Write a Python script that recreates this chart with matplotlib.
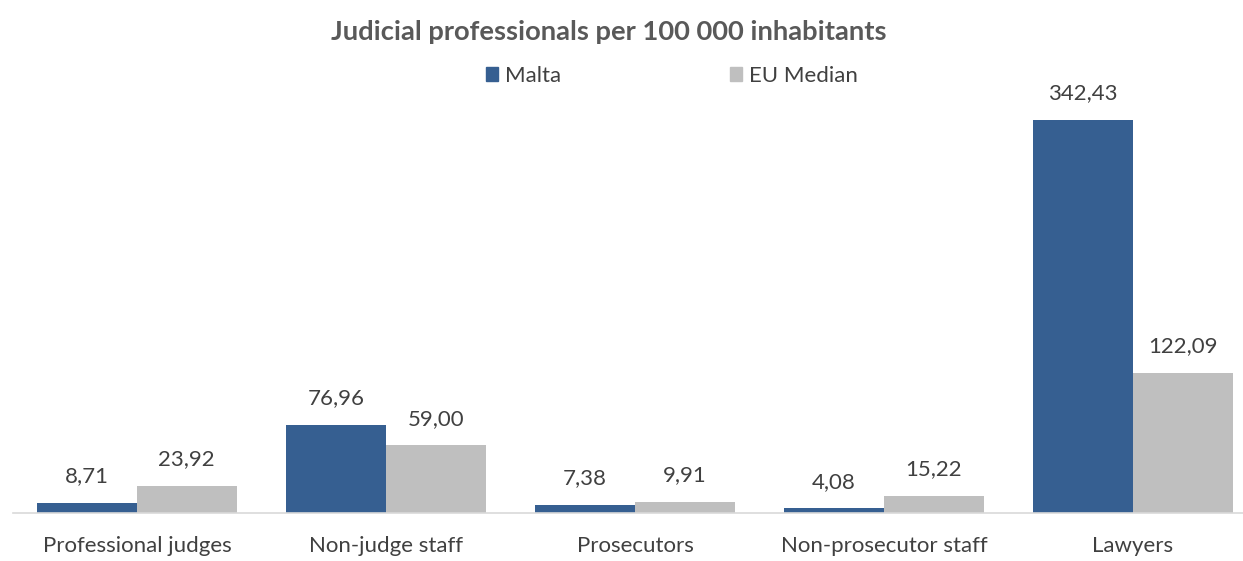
import matplotlib
matplotlib.use("Agg")
import matplotlib.pyplot as plt
import numpy as np
from matplotlib.patches import Patch

categories = ["Professional judges", "Non-judge staff", "Prosecutors", "Non-prosecutor staff", "Lawyers"]
malta = [8.71, 76.96, 7.38, 4.08, 342.43]
eu_median = [23.92, 59.00, 9.91, 15.22, 122.09]
series_names = ["Malta", "EU Median"]

plt.rcParams['font.family'] = ['Lato', 'DejaVu Sans']
W, H = 1243, 561
fig = plt.figure(figsize=(W / 100, H / 100), dpi=100)
left, right = 12.5 / W, 1257.5 / W
bottom, top = (H - 513) / H, (H - 99.8) / H
ax = fig.add_axes([left, bottom, right - left, top - bottom])

x = np.arange(len(categories))
w = 0.4
c_malta = "#365F91"
c_eu = "#BFBFBF"
b1 = ax.bar(x - w / 2, malta, w, color=c_malta, label=series_names[0])
b2 = ax.bar(x + w / 2, eu_median, w, color=c_eu, label=series_names[1])

def fmt(v):
    return f"{v:.2f}".replace(".", ",")

for bars, vals in ((b1, malta), (b2, eu_median)):
    for r, v in zip(bars, vals):
        ax.annotate(fmt(v), (r.get_x() + r.get_width() / 2, v), xytext=(0, 12),
                    textcoords="offset points", ha="center", va="bottom",
                    fontsize=16, color="#404040")

ax.set_xlim(-0.5, len(categories) - 0.5)
ax.set_ylim(0, 360)
ax.set_xticks(x)
ax.set_xticklabels(categories, fontsize=16, color="#404040")
ax.tick_params(axis="x", length=0, pad=16.5)
ax.set_yticks([])
for s in ["top", "right", "left"]:
    ax.spines[s].set_visible(False)
ax.spines["bottom"].set_color("#D9D9D9")
ax.spines["bottom"].set_linewidth(1.2)

fig.text(609 / W, 1 - 32 / H, "Judicial professionals per 100 000 inhabitants", ha="center", va="center",
         fontsize=19.7, fontweight="bold", color="#595959")

handles = [Patch(color=c_malta), Patch(color=c_eu)]
leg = fig.legend(handles, series_names, loc="center", bbox_to_anchor=(672 / W, 1 - 76 / H), ncol=2,
                 frameon=False, fontsize=16, handlelength=0.55, handleheight=0.55,
                 handletextpad=0.3, columnspacing=7.6, labelcolor="#404040")

fig.savefig("out.png", dpi=100)
